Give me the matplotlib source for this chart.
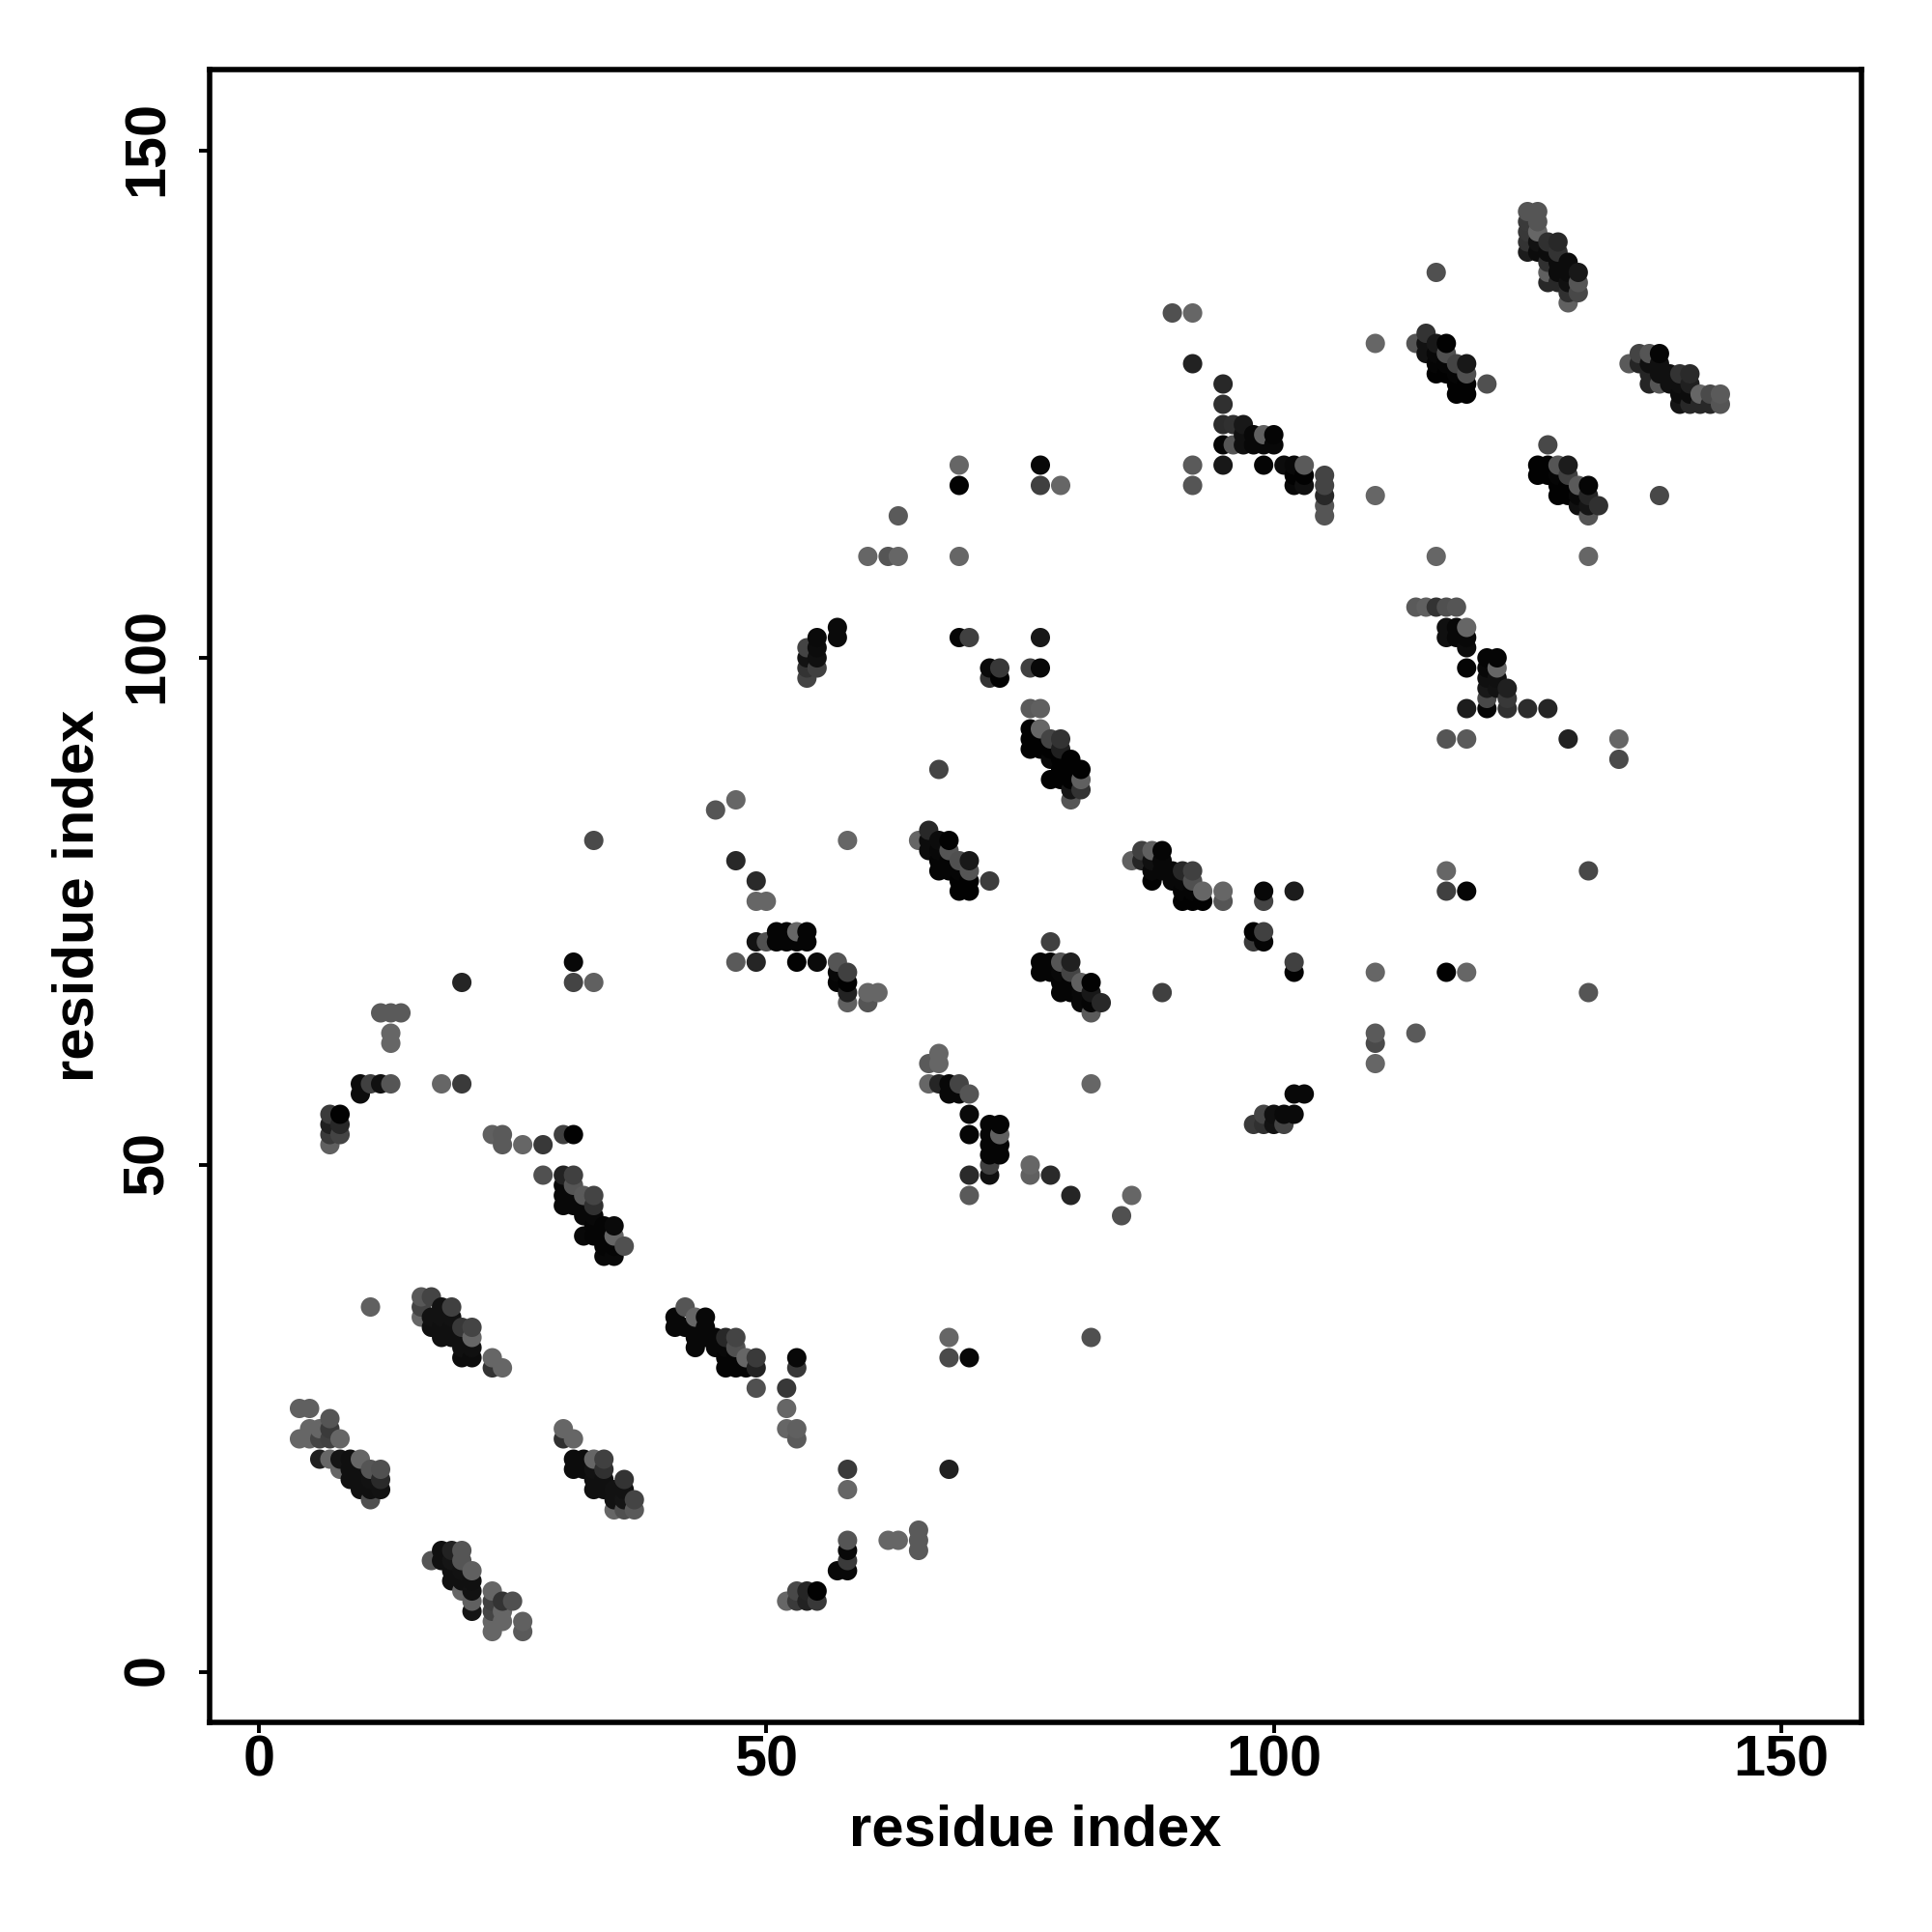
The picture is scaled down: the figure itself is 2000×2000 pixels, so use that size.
import matplotlib
matplotlib.use("Agg")
import matplotlib.pyplot as plt
import matplotlib.transforms as mtrans
import numpy as np

plt.rcParams['font.family'] = ['Liberation Sans', 'DejaVu Sans']
plt.rcParams['font.weight'] = 'bold'

X_LABEL = "residue index"
Y_LABEL = "residue index"
TICKS = [0, 50, 100, 150]

# (residue i, residue j, grey level 0-255)
cluster_a = [(16,37,0x58),(17,37,0x44),(16,36,0x44),(18,36,0x12),(19,36,0x40),(16,35,0x66),(17,35,0x12),(18,35,0x12),(19,35,0x12),
             (17,34,0x10),(18,34,0x10),(19,34,0x10),(20,34,0x38),(21,34,0x44),(18,33,0x10),(19,33,0x10),(20,33,0x10),(21,33,0x66),
             (20,32,0x10),(21,32,0x10),(20,31,0x0c),(21,31,0x0c),(23,31,0x66),(23,30,0x33),(24,30,0x66)]
cluster_b = [(4,26,0x60),(5,26,0x60),(7,25,0x55),(5,24,0x66),(6,24,0x66),(7,24,0x3a),(4,23,0x66),(5,23,0x66),(6,23,0x44),(7,23,0x40),(8,23,0x66),
             (6,21,0x20),(7,21,0x66),(8,21,0x15),(9,21,0x10),(10,21,0x66),(8,20,0x66),(9,20,0x10),(10,20,0x10),(11,20,0x55),(12,20,0x50),
             (9,19,0x10),(10,19,0x10),(11,19,0x12),(12,19,0x2a),(10,18,0x10),(11,18,0x10),(12,18,0x12),(11,17,0x50),(11,36,0x60)]
cluster_c = [(30,24,0x66),(30,23,0x30),(31,23,0x66),(31,21,0x0c),(32,21,0x0c),(33,21,0x66),(34,21,0x40),(31,20,0x0c),(32,20,0x0c),(33,20,0x12),(34,20,0x30),
             (33,19,0x10),(34,19,0x10),(36,19,0x33),(33,18,0x10),(34,18,0x10),(35,18,0x12),(36,18,0x12),(35,17,0x12),(36,17,0x15),(37,17,0x44),
             (35,16,0x66),(36,16,0x50),(37,16,0x5a)]
cluster_d = [(18,12,0x10),(19,12,0x22),(20,12,0x55),(17,11,0x55),(18,11,0x10),(19,11,0x15),(20,11,0x55),(19,10,0x10),(20,10,0x12),(21,10,0x60),
             (19,9,0x10),(20,9,0x10),(21,9,0x10),(20,8,0x66),(21,8,0x12),(23,8,0x66),(21,7,0x60),(23,7,0x40),(24,7,0x33),(25,7,0x50),
             (21,6,0x15),(23,6,0x44),(24,6,0x66),(23,5,0x66),(24,5,0x66),(26,5,0x60),(23,4,0x66),(26,4,0x5a)]
cluster_e = [(42,36,0x55),(41,35,0x08),(43,35,0x66),(44,35,0x08),(41,34,0x08),(42,34,0x08),(43,34,0x08),(44,34,0x08),(43,33,0x08),(44,33,0x08),(45,33,0x08),(46,33,0x28),(47,33,0x44),
             (43,32,0x08),(45,32,0x08),(46,32,0x08),(47,32,0x50),(46,31,0x05),(47,31,0x05),(48,31,0x66),(49,31,0x3a),(46,30,0x05),(47,30,0x05),(48,30,0x05),(49,30,0x22),
             (49,28,0x50),(52,28,0x38),(53,31,0x08),(53,30,0x38),(52,26,0x66),(52,24,0x66),(53,24,0x60),(53,23,0x5a)]
cluster_f = [(68,33,0x66),(68,31,0x4a),(70,31,0x08),(82,33,0x50),(58,20,0x3a),(58,18,0x66),(68,20,0x20),(58,13,0x55),(58,12,0x08),(58,11,0x3a),(58,10,0x08),(57,10,0x08),
             (62,13,0x66),(63,13,0x66),(65,14,0x5a),(65,13,0x5a),(65,12,0x5a),(53,8,0x48),(54,8,0x25),(55,8,0x02),(52,7,0x66),(53,7,0x3a),(54,7,0x22),(55,7,0x38)]
cluster_g = [(20,68,0x25),(31,70,0x08),(31,68,0x44),(33,68,0x60),(12,65,0x5a),(13,65,0x5a),(14,65,0x5a),(13,63,0x66),(13,62,0x66),
             (10,58,0x0c),(11,58,0x40),(12,58,0x10),(13,58,0x55),(18,58,0x66),(20,58,0x3a),(10,57,0x0c),(7,55,0x3a),(8,55,0x02),(7,54,0x20),(8,54,0x28),(7,53,0x3a),(8,53,0x44),(7,52,0x60)]
cluster_h = [(23,53,0x60),(24,53,0x5a),(30,53,0x40),(31,53,0x02),(24,52,0x5a),(26,52,0x66),(28,52,0x38),(28,49,0x50),(30,49,0x22),(31,49,0x40),(30,48,0x08),(31,48,0x55),
             (30,47,0x08),(31,47,0x08),(32,47,0x5a),(33,47,0x44),(30,46,0x08),(31,46,0x08),(32,46,0x08),(33,46,0x30),(32,45,0x08),(33,45,0x08),(33,44,0x05),(34,44,0x05),(35,44,0x0a),
             (32,43,0x08),(33,43,0x05),(34,43,0x05),(35,43,0x66),(34,42,0x05),(35,42,0x05),(36,42,0x50),(34,41,0x08),(35,41,0x08)]
cluster_i = [(33,82,0x4a),(45,85,0x55),(47,86,0x66),(47,80,0x28),(49,78,0x2a),(49,76,0x66),(50,76,0x66),(51,73,0x05),(52,73,0x05),(53,73,0x66),(54,73,0x05),
             (49,72,0x12),(50,72,0x50),(51,72,0x05),(52,72,0x05),(53,72,0x05),(54,72,0x05),(47,70,0x5a),(49,70,0x25),(53,70,0x02),(55,70,0x0a),(57,70,0x55),
             (57,69,0x08),(58,69,0x40),(57,68,0x05),(58,68,0x02),(58,67,0x22),(60,67,0x66),(61,67,0x66),(58,66,0x60),(60,66,0x55),(58,82,0x66)]
cluster_j = [(67,61,0x66),(66,60,0x5a),(67,60,0x66),(66,58,0x66),(67,58,0x25),(68,58,0x08),(69,58,0x44),(68,57,0x08),(69,57,0x08),(70,57,0x55),(70,55,0x0a),
             (70,53,0x05),(72,54,0x05),(73,54,0x05),(72,53,0x05),(73,53,0x60),(72,52,0x05),(73,52,0x05),(72,51,0x05),(73,51,0x05),(72,50,0x40),(72,49,0x10),(70,49,0x2a),(70,47,0x5a),
             (76,50,0x66),(76,49,0x60),(78,49,0x2a),(80,47,0x25),(86,47,0x66),(85,45,0x50),(82,58,0x66),
             (102,57,0x08),(103,57,0x08),(99,55,0x44),(100,55,0x10),(101,55,0x0a),(102,55,0x0a),(98,54,0x3a),(99,54,0x30),(100,54,0x12),(101,54,0x44)]
cluster_k = [(67,89,0x44),(66,83,0x28),(65,82,0x66),(66,82,0x0c),(67,82,0x0c),(68,82,0x02),(66,81,0x0c),(67,81,0x08),(68,81,0x55),(67,80,0x05),(68,80,0x05),(69,80,0x50),(70,80,0x18),
             (67,79,0x05),(68,79,0x05),(69,79,0x05),(70,79,0x55),(69,78,0x02),(70,78,0x02),(72,78,0x3c),(69,77,0x02),(70,77,0x02),
             (78,72,0x40),(77,70,0x05),(78,70,0x05),(79,70,0x55),(80,70,0x20),(77,69,0x05),(78,69,0x05),(79,69,0x08),(80,69,0x44),(79,68,0x05),(80,68,0x05),(81,68,0x60),(82,68,0x02),
             (79,67,0x05),(80,67,0x05),(81,67,0x08),(82,67,0x18),(81,66,0x08),(82,66,0x05),(83,66,0x28),(82,65,0x5a),(89,67,0x40)]
cluster_l = [(87,81,0x40),(88,81,0x60),(89,81,0x05),(86,80,0x60),(87,80,0x25),(88,80,0x10),(89,80,0x08),(88,79,0x08),(89,79,0x08),(90,79,0x08),(91,79,0x28),(92,79,0x40),
             (88,78,0x02),(90,78,0x08),(91,78,0x08),(92,78,0x50),(91,77,0x05),(92,77,0x05),(93,77,0x66),(95,77,0x66),(99,77,0x08),(102,77,0x1c),(91,76,0x02),(92,76,0x02),(93,76,0x02),(95,76,0x55),(99,76,0x44),
             (98,73,0x02),(99,73,0x40),(98,72,0x3a),(99,72,0x05),(102,70,0x40),(102,69,0x02)]
cluster_m = [(69,119,0x66),(69,117,0x02),(77,119,0x08),(77,117,0x40),(79,117,0x66),(63,114,0x5a),(60,110,0x66),(62,110,0x55),(63,110,0x66),(69,110,0x66),
             (57,103,0x0a),(57,102,0x0a),(55,102,0x0a),(55,101,0x0c),(55,100,0x10),(55,99,0x40),(54,101,0x44),(54,100,0x12),(54,99,0x33),(54,98,0x44),
             (69,102,0x05),(70,102,0x40),(77,102,0x18),(72,99,0x0a),(73,99,0x38),(76,99,0x40),(77,99,0x08),(72,98,0x33),(73,98,0x02),(76,95,0x5a),(77,95,0x60)]
cluster_n = [(76,93,0x02),(77,93,0x66),(76,92,0x02),(77,92,0x02),(78,92,0x44),(79,92,0x33),(76,91,0x02),(77,91,0x02),(78,91,0x02),(79,91,0x20),(78,90,0x08),(79,90,0x02),(80,90,0x02),
             (79,89,0x02),(80,89,0x02),(81,89,0x02),(78,88,0x02),(79,88,0x02),(80,88,0x02),(81,88,0x60),(80,87,0x15),(81,87,0x33),(80,86,0x55)]
cluster_o = [(90,134,0x50),(92,134,0x66),(92,129,0x22),(95,127,0x28),(95,125,0x30),(95,123,0x2c),(96,123,0x30),(97,123,0x18),(97,122,0x10),(98,122,0x08),(99,122,0x60),(100,122,0x05),
             (95,121,0x05),(96,121,0x55),(97,121,0x10),(98,121,0x08),(99,121,0x08),(100,121,0x08),(92,119,0x5a),(95,119,0x18),(99,119,0x05),(101,119,0x0c),(102,119,0x08),(103,119,0x5a),
             (102,118,0x02),(103,118,0x02),(105,118,0x44),(92,117,0x55),(102,117,0x08),(103,117,0x10),(105,117,0x44),(105,116,0x28),(110,116,0x66),(105,115,0x55),(105,114,0x55)]
cluster_p = [(110,131,0x66),(114,131,0x55),(115,132,0x33),(115,131,0x12),(116,131,0x18),(117,131,0x02),(115,130,0x12),(116,130,0x08),(117,130,0x50),(116,129,0x05),(117,129,0x05),(118,129,0x44),(119,129,0x18),
             (116,128,0x02),(117,128,0x02),(118,128,0x05),(119,128,0x50),(118,127,0x02),(119,127,0x02),(121,127,0x50),(118,126,0x02),(119,126,0x02),(116,138,0x50)]
cluster_q = [(125,144,0x55),(126,144,0x55),(125,143,0x3a),(126,143,0x55),(125,142,0x38),(126,142,0x66),(125,141,0x33),(126,141,0x12),(127,141,0x30),(128,141,0x28),
             (125,140,0x1c),(126,140,0x0c),(127,140,0x0c),(128,140,0x33),(127,139,0x30),(128,139,0x0c),(129,139,0x0c),(127,138,0x60),(128,138,0x0c),(129,138,0x0c),(130,138,0x18),
             (127,137,0x28),(128,137,0x28),(129,137,0x10),(130,137,0x55),(129,136,0x30),(130,136,0x48),(129,135,0x60)]
cluster_r = [(136,130,0x44),(137,130,0x55),(138,130,0x05),(135,129,0x5a),(136,129,0x25),(137,129,0x10),(138,129,0x10),(137,128,0x25),(138,128,0x10),(139,128,0x10),(140,128,0x33),(141,128,0x2a),
             (137,127,0x25),(138,127,0x55),(139,127,0x10),(140,127,0x10),(141,127,0x20),(140,126,0x0c),(141,126,0x0c),(142,126,0x66),(143,126,0x4a),(144,126,0x5a),
             (140,125,0x15),(141,125,0x28),(142,125,0x28),(143,125,0x28),(144,125,0x55)]
cluster_s = [(127,121,0x48),(110,116,0x66),(138,116,0x48),(126,119,0x02),(127,119,0x02),(128,119,0x55),(129,119,0x1c),(126,118,0x02),(127,118,0x02),(128,118,0x05),(129,118,0x40),
             (128,117,0x02),(129,117,0x02),(130,117,0x5a),(131,117,0x05),(128,116,0x02),(129,116,0x02),(130,116,0x08),(131,116,0x25),(130,115,0x10),(131,115,0x15),(132,115,0x30),(131,114,0x55)]
cluster_t = [(116,110,0x66),(131,110,0x66),(114,105,0x5a),(115,105,0x60),(116,105,0x33),(117,105,0x50),(118,105,0x55),(117,103,0x10),(118,103,0x08),(119,103,0x66),(117,102,0x10),(118,102,0x08),(119,102,0x08),
             (119,101,0x0c),(121,100,0x05),(122,100,0x05),(119,99,0x05),(121,99,0x08),(122,99,0x66),(121,98,0x10),(122,98,0x10),(121,97,0x18),(122,97,0x12),(123,97,0x20),(121,96,0x48),(123,96,0x38),
             (119,95,0x1c),(121,95,0x05),(123,95,0x30),(125,95,0x2c),(127,95,0x25),(117,92,0x55),(119,92,0x5a),(129,92,0x22),(134,92,0x66),(134,90,0x4a)]
cluster_u = [(131,79,0x48),(131,67,0x55),(117,79,0x66),(117,77,0x40),(119,77,0x05),(110,69,0x66),(117,69,0x02),(119,69,0x66),(110,63,0x5a),(110,62,0x4a),(110,60,0x66),(114,63,0x5a)]

clusters = [cluster_a, cluster_b, cluster_c, cluster_d, cluster_e, cluster_f, cluster_g, cluster_h, cluster_i, cluster_j, cluster_k,
            cluster_l, cluster_m, cluster_n, cluster_o, cluster_p, cluster_q, cluster_r, cluster_s, cluster_t, cluster_u]

points = {}
for c in clusters:
    for i, j, g in c:
        points[(i, j)] = g
keys = sorted(points)               # drawn by i, then j
res_i = np.array([k[0] for k in keys])
res_j = np.array([k[1] for k in keys])
grey = np.array([points[k] for k in keys]) / 255.0

fig = plt.figure(figsize=(10, 10), dpi=200)
ax = fig.add_axes([217/2000, 1 - 1783/2000, (1927-217)/2000, (1783-72)/2000])
ax.scatter(res_i, res_j, s=52, c=np.c_[grey, grey, grey], linewidths=0, zorder=3)

ax.set_xlim(-4.85, 157.9)
ax.set_ylim(-4.95, 158.0)
ax.set_xticks(TICKS)
ax.set_yticks(TICKS)
ax.tick_params(length=4, width=1.4, labelsize=21.4)
ax.tick_params(axis='x', pad=0.5)
ax.tick_params(axis='y', pad=9)
shift_up = mtrans.ScaledTranslation(0, 0.9 / 72, fig.dpi_scale_trans)
for lab in ax.get_yticklabels():
    lab.set_rotation(90)
    lab.set_va('center')
    lab.set_transform(lab.get_transform() + shift_up)
for lab in ax.get_xticklabels() + ax.get_yticklabels():
    lab.set_fontweight('bold')
for s in ax.spines.values():
    s.set_linewidth(2.0)
ax.set_xlabel(X_LABEL, fontsize=21.5, fontweight='bold', va='center')
ax.set_ylabel(Y_LABEL, fontsize=21.5, fontweight='bold', va='center')
ax.xaxis.set_label_coords(0.5, -0.0655)
ax.yaxis.set_label_coords(-0.0797, 0.5)
fig.savefig("out.png", dpi=200)
